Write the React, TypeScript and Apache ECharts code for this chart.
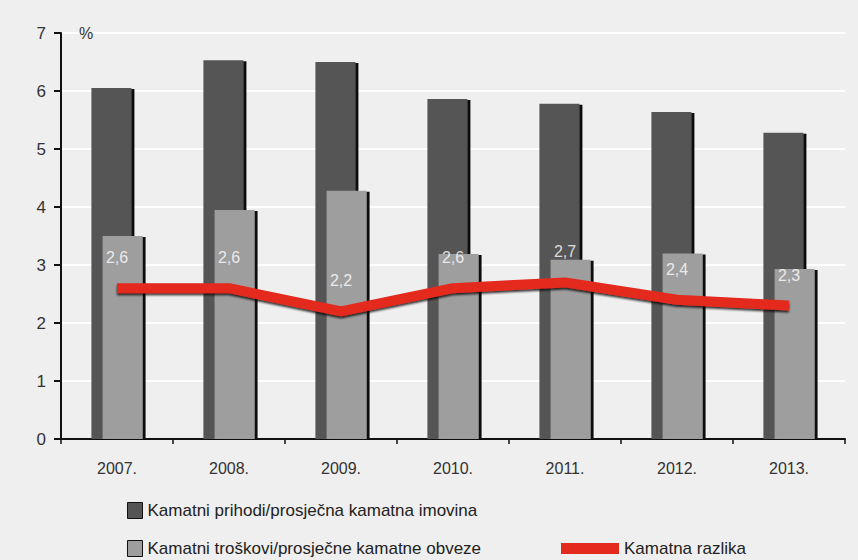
import React, { useEffect, useRef } from "react";
import * as echarts from "echarts";

const years = ["2007.", "2008.", "2009.", "2010.", "2011.", "2012.", "2013."];
const prihodi = [6.05, 6.53, 6.5, 5.86, 5.78, 5.64, 5.28];
const troskovi = [3.5, 3.95, 4.28, 3.19, 3.09, 3.2, 2.93];
const razlika = [2.6, 2.6, 2.2, 2.6, 2.7, 2.4, 2.3];

const nPrihodi = "Kamatni prihodi/prosječna kamatna imovina";
const nTroskovi = "Kamatni troškovi/prosječne kamatne obveze";
const nRazlika = "Kamatna razlika";

export default function App() {
  const ref = useRef<HTMLDivElement>(null);
  useEffect(() => {
    const chart = echarts.init(ref.current!, null, { renderer: "svg" });
    const font = "Liberation Sans, Arial, sans-serif";
    const legText = { fontSize: 17, color: "#222", fontFamily: font };
    chart.setOption({
      animation: false,
      backgroundColor: "#efefef",
      textStyle: { fontFamily: font },
      grid: { left: 61, right: 13, top: 33, bottom: 121, containLabel: false },
      legend: [
        {
          left: 122, top: 497, itemWidth: 15, itemHeight: 16, itemGap: 8,
          data: [{ name: nPrihodi, icon: "rect", itemStyle: { borderColor: "#111", borderWidth: 1 } }],
          textStyle: legText,
        },
        {
          left: 122, top: 535, itemWidth: 15, itemHeight: 16,
          data: [{ name: nTroskovi, icon: "rect", itemStyle: { borderColor: "#111", borderWidth: 1 } }],
          textStyle: legText,
        },
        {
          left: 556, top: 535, itemWidth: 58, itemHeight: 11,
          data: [{ name: nRazlika, icon: "rect", itemStyle: { color: "#e4291f" } }],
          textStyle: legText,
        },
      ],
      xAxis: {
        type: "category",
        data: years,
        axisLine: { lineStyle: { color: "#111", width: 2 } },
        axisTick: { show: true, length: 5, lineStyle: { color: "#111", width: 1.5 } },
        axisLabel: { fontSize: 16, color: "#333", margin: 21, fontFamily: font },
      },
      yAxis: {
        type: "value",
        min: 0,
        max: 7,
        interval: 1,
        name: "%",
        nameLocation: "end",
        nameGap: 0,
        nameTextStyle: { fontSize: 16, color: "#333", align: "left", verticalAlign: "middle", padding: [0, 0, 0, 18], fontFamily: font },
        axisLine: { show: true, lineStyle: { color: "#111", width: 2 } },
        axisTick: { show: true, inside: false, length: 7, lineStyle: { color: "#111", width: 2 } },
        axisLabel: { fontSize: 17, color: "#333", margin: 15, fontFamily: font },
        splitLine: { show: true, lineStyle: { color: "#ffffff", width: 2 } },
      },
      series: [
        {
          name: nPrihodi,
          type: "bar",
          data: prihodi,
          barWidth: 40,
          barGap: "-72%",
          itemStyle: { color: "#555555", shadowColor: "#111", shadowOffsetX: 3, shadowOffsetY: 1, shadowBlur: 0 },
        },
        {
          name: nTroskovi,
          type: "bar",
          data: troskovi,
          barWidth: 40,
          barGap: "-72%",
          itemStyle: { color: "#9e9e9e", shadowColor: "#111", shadowOffsetX: 3, shadowOffsetY: 1, shadowBlur: 0 },
        },
        {
          name: nRazlika,
          type: "line",
          data: razlika,
          symbol: "none",
          color: "#e4291f",
          lineStyle: { color: "#e4291f", width: 10, shadowColor: "rgba(0,0,0,0.8)", shadowOffsetY: 2, shadowBlur: 2 },
          z: 5,
        },
        {
          name: "labels",
          type: "scatter",
          data: razlika,
          symbolSize: 1,
          itemStyle: { color: "transparent" },
          label: {
            show: true,
            position: "top",
            distance: 22,
            offset: [8, 0],
            color: "#ffffff",
            fontSize: 16,
            fontFamily: font,
            formatter: (p: any) => String(p.value).replace(".", ","),
          },
          labelLayout: { hideOverlap: false },
          silent: true,
          z: 6,
        },
      ],
    });
    return () => chart.dispose();
  }, []);
  return <div ref={ref} style={{ width: 858, height: 560, position: "absolute", left: 0, top: 0 }} />;
}
